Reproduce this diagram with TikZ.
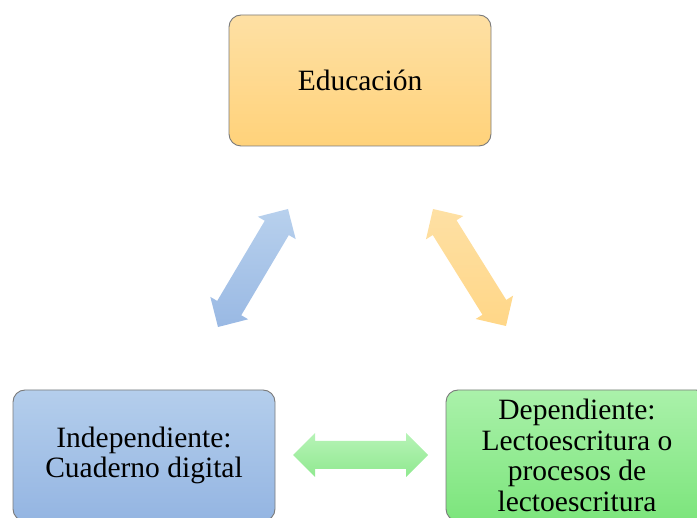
\documentclass[tikz,border=0pt]{standalone}
\usepackage{fontspec}
\setmainfont{Liberation Serif}
\usetikzlibrary{calc}
\definecolor{ortop}{HTML}{FEE0A4}
\definecolor{orbot}{HTML}{FFD27A}
\definecolor{bltop}{HTML}{B4CEEC}
\definecolor{blbot}{HTML}{94B5E2}
\definecolor{grtop}{HTML}{AAF1AA}
\definecolor{grbot}{HTML}{7CE57C}
\definecolor{bordergray}{HTML}{7A7A7A}
\tikzset{
  box/.style={draw=bordergray, line width=0.9pt, rounded corners=12pt,
    minimum width=262pt, minimum height=131pt, inner sep=0pt,
    align=center, font=\rmfamily\fontsize{29.5}{30.5}\selectfont},
  orangebox/.style={box, top color=ortop, bottom color=orbot},
  bluebox/.style={box, top color=bltop, bottom color=blbot},
  greenbox/.style={box, top color=grtop, bottom color=grbot},
  bluearrow/.style={top color=bltop!95!white, bottom color=blbot!95!white},
  orangearrow/.style={top color=ortop, bottom color=orbot!90!white},
  greenarrow/.style={top color=grtop!85!white, bottom color=grbot!85!white},
}
% double block arrow from coordinate #1 to coordinate #2
\newcommand\dblarrow[3]{%
  \coordinate (#1h) at ($(#1)!22pt!(#2)$);
  \coordinate (#2h) at ($(#2)!22pt!(#1)$);
  \path[#3] (#1)
    -- ($(#1h)!22pt!90:(#2)$) -- ($(#1h)!14pt!90:(#2)$)
    -- ($(#2h)!14pt!-90:(#1)$) -- ($(#2h)!22pt!-90:(#1)$)
    -- (#2)
    -- ($(#2h)!22pt!90:(#1)$) -- ($(#2h)!14pt!90:(#1)$)
    -- ($(#1h)!14pt!-90:(#2)$) -- ($(#1h)!22pt!-90:(#2)$)
    -- cycle;}
\begin{document}
\begin{tikzpicture}[x=1pt,y=-1pt]
\useasboundingbox (0,0) rectangle (697,518);
\clip (0,0) rectangle (697,518);
\node[orangebox] (edu) at (360,80.5) {Educación};
\node[bluebox] (ind) at (144,455.5) {Independiente:\\Cuaderno digital};
\node[greenbox] (dep) at (577,455.5) {Dependiente:\\Lectoescritura o\\procesos de\\lectoescritura};
\coordinate (ba) at (218,327);
\coordinate (bb) at (288,209);
\coordinate (oa) at (433,209);
\coordinate (ob) at (506,326);
\coordinate (ga) at (293,455);
\coordinate (gb) at (428,455);
\dblarrow{ba}{bb}{bluearrow}
\dblarrow{oa}{ob}{orangearrow}
\dblarrow{ga}{gb}{greenarrow}
\end{tikzpicture}
\end{document}
